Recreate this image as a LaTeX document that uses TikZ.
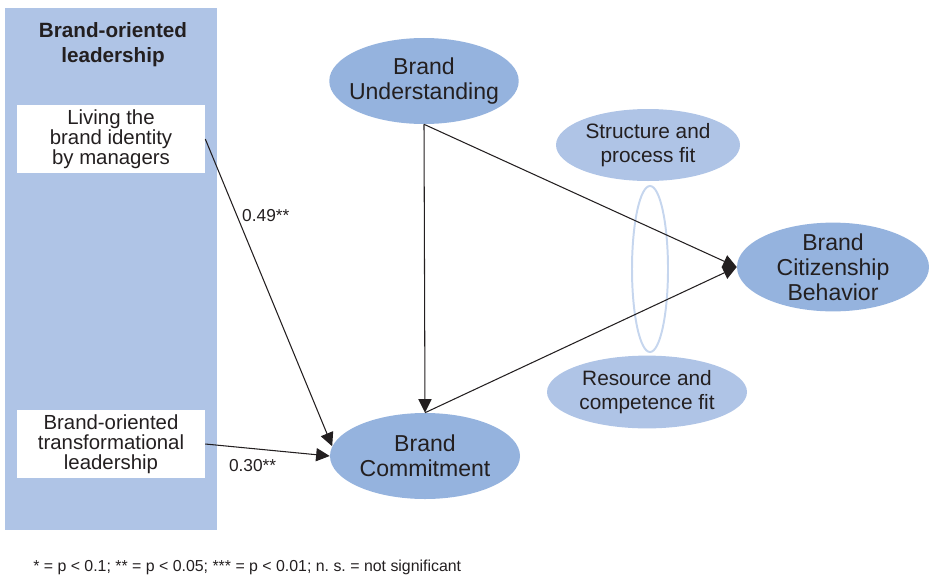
\documentclass[tikz,border=0pt]{standalone}
\usepackage{fontspec}
\setmainfont{Liberation Sans}
\usetikzlibrary{arrows.meta, shapes.geometric}
\definecolor{cPanel}{HTML}{AFC4E6}
\definecolor{cCore}{HTML}{95B3DE}
\definecolor{cFit}{HTML}{AFC4E6}
\definecolor{cRing}{HTML}{C6D6EE}
\definecolor{ink}{HTML}{231F20}

\begin{document}
\begin{tikzpicture}[
  % one unit is one point of the 929 x 576 canvas, y running downwards
  x=0.25mm, y=-0.25mm,
  >={Triangle[length=3.4mm, width=3.3mm]},
  core/.style={ellipse, fill=cCore, inner sep=-2mm, align=center, text=ink,
               font=\fontsize{16.4}{17.8}\selectfont},
  fitnode/.style={ellipse, fill=cFit, inner sep=-2mm, align=center, text=ink,
                  font=\fontsize{14.8}{17}\selectfont},
  item/.style={fill=white, minimum width=47mm, minimum height=17mm, inner sep=0pt,
               align=center, text=ink, font=\fontsize{14.5}{14.2}\selectfont},
  link/.style={->, line width=0.75pt, draw=ink},
  coef/.style={text=ink, font=\fontsize{12.3}{14}\selectfont},
]
  \useasboundingbox (0,0) rectangle (929,576);

  % --- leadership panel ---
  \fill[cPanel] (5,8) rectangle (217,530);
  \node[text=ink, align=center, font=\bfseries\fontsize{14.7}{17.8}\selectfont]
    (lead) at (113,45) {Brand-oriented\\leadership};
  \node[item] (living) at (111,139) {Living the\\brand identity\\by managers};
  \node[item] (tfl) at (111,444) {Brand-oriented\\transformational\\leadership};

  % --- constructs ---
  \node[core, minimum width=47mm, minimum height=21.5mm] (bu) at (424,81)
    {Brand\\Understanding};
  \node[core, minimum width=47.5mm, minimum height=21.5mm] (bc) at (425,456)
    {Brand\\Commitment};
  \node[core, minimum width=48mm, minimum height=22.2mm] (bcb) at (833,267)
    {Brand\\Citizenship\\Behavior};

  % --- fit moderators ---
  \node[fitnode, minimum width=46mm, minimum height=18mm] (spfit) at (648,145)
    {Structure and\\process fit};
  \node[fitnode, minimum width=50mm, minimum height=18.2mm] (rcfit) at (647,392)
    {Resource and\\competence fit};
  \node[ellipse, draw=cRing, line width=1.4pt, inner sep=0pt,
        minimum width=9mm, minimum height=41.5mm] (ring) at (650,269) {};

  % --- paths ---
  \draw[link] (living.east) -- (bc.174) node[coef, right, pos=0.25] {0.49**};
  \draw[link] (tfl.east) -- (bc.west) node[coef, below, pos=0.38, yshift=-1.4mm] {0.30**};
  \draw[link] (bu.south) -- (bc.north);
  \draw[link] (bu.south) -- (bcb.west);
  \draw[link] (bc.north) -- (bcb.west);

  % --- significance note ---
  \node[anchor=west, inner sep=0pt, text=ink, font=\fontsize{11.3}{13}\selectfont]
    (note) at (33,567) {* = p < 0.1; ** = p < 0.05; *** = p < 0.01; n.\ s.\ = not significant};
\end{tikzpicture}
\end{document}
